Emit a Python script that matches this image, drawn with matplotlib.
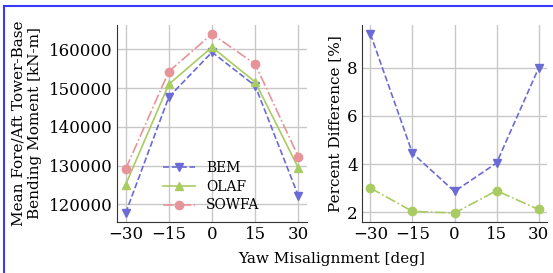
import matplotlib
matplotlib.use('Agg')
import matplotlib.pyplot as plt
from matplotlib.lines import Line2D

plt.rcParams['font.family'] = ['DejaVu Serif']
plt.rcParams['font.size'] = 11

# 偏航角
yaw = [-30, -15, 0, 15, 30]
# 塔底弯矩均值 [kN-m]
bem = [117750, 147700, 159300, 150600, 122200]
olaf = [125100, 151000, 160600, 151600, 129400]
sowfa = [129100, 154300, 164000, 156200, 132300]
# 与 SOWFA 的百分比差
diff_bem = [9.41, 4.45, 2.86, 4.04, 7.99]
diff_olaf = [3.0, 2.03, 1.96, 2.89, 2.11]

c_bem = '#6b6bd6'
c_olaf = '#a9cc62'
c_sowfa = '#e8939a'

fig = plt.figure(figsize=(5.53, 2.73), dpi=100)
ax1 = fig.add_axes([117/553, 1-222/273, 190/553, 197/273])
ax2 = fig.add_axes([362/553, 1-222/273, 185/553, 197/273])

ax1.plot(yaw, bem, 'v--', color=c_bem, label='BEM', ms=6, lw=1.2)
ax1.plot(yaw, olaf, '^-', color=c_olaf, label='OLAF', ms=6, lw=1.2)
ax1.plot(yaw, sowfa, 'o-.', color=c_sowfa, label='SOWFA', ms=6, lw=1.2)
ax1.set_yticks([120000, 130000, 140000, 150000, 160000])
ax1.set_ylabel('Mean Fore/Aft Tower-Base\nBending Moment [kN-m]', labelpad=5)
ax1.legend(loc='lower left', frameon=False, fontsize=10, handlelength=2.3,
           labelspacing=0.35, bbox_to_anchor=(0.175, -0.015))

ax2.plot(yaw, diff_bem, 'v--', color=c_bem, ms=6, lw=1.2)
ax2.plot(yaw, diff_olaf, 'o-.', color=c_olaf, ms=6, lw=1.2)
ax2.set_yticks([2, 4, 6, 8])
ax2.set_ylabel('Percent Difference [%]', labelpad=4)

for ax in (ax1, ax2):
    ax.set_xticks(yaw)
    ax.set_xticklabels(['\u221230', '\u221215', '0', '15', '30'])
    ax.grid(True, color='#c8c8c8', lw=1)
    ax.set_axisbelow(True)
    ax.spines['top'].set_visible(False)
    ax.spines['right'].set_visible(False)
    ax.spines['left'].set_color('#333333')
    ax.spines['bottom'].set_color('#333333')
    ax.tick_params(length=0, pad=3, labelsize=12)

fig.text(0.6, 0.035, 'Yaw Misalignment [deg]', ha='center', fontsize=11)

# 蓝色边框
fig.add_artist(Line2D([4/553, 1], [1-6/273, 1-6/273], color='#3a3aff', lw=1.5))
fig.add_artist(Line2D([4/553, 4/553], [0, 1-6/273], color='#3a3aff', lw=1.5))

fig.savefig('out.png', dpi=100)
